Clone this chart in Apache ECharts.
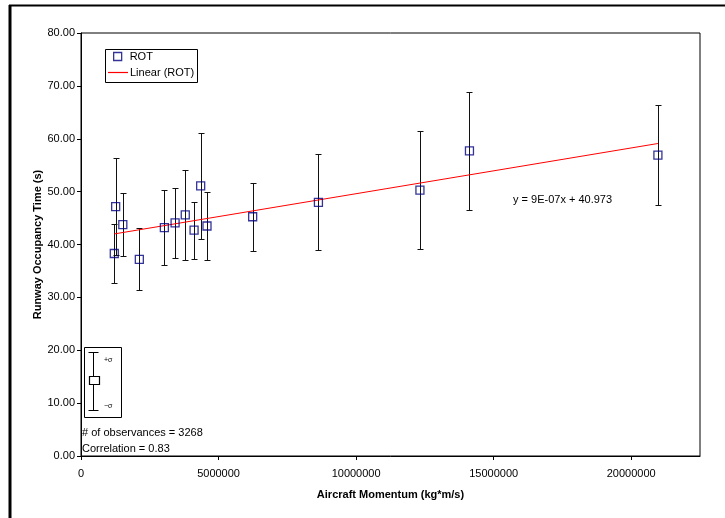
<!DOCTYPE html>
<html>
<head>
<meta charset="utf-8">
<script src="https://cdn.jsdelivr.net/npm/echarts@6/dist/echarts.min.js"></script>
<style>
html,body{margin:0;padding:0;background:#fff;}
#chart{width:725px;height:518px;}
</style>
</head>
<body>
<div id="chart"></div>
<script>
// Aircraft momentum (kg*m/s)
var momentum = [1260000, 1210000, 1520000, 2120000, 3030000, 3420000, 3790000, 4110000, 4350000, 4580000, 6240000, 8630000, 12320000, 14120000, 20970000];
// Mean runway occupancy time (s)
var rot = [47.15, 38.3, 43.75, 37.2, 43.2, 44.1, 45.6, 42.7, 51.1, 43.5, 45.25, 47.98, 50.3, 57.7, 56.9];
// Standard deviation (s)
var sigma = [9.15, 5.5, 6.0, 5.85, 7.1, 6.6, 8.5, 5.4, 10.0, 6.5, 6.4, 9.1, 11.1, 11.2, 9.5];
// Linear trend line end points
var trendX = [1210000, 20970000];
var trendY = [42.0, 59.1];
var yTicks = [0, 10, 20, 30, 40, 50, 60, 70, 80];
var xTicks = [0, 5000000, 10000000, 15000000, 20000000];

var font = 'Liberation Sans, Arial, sans-serif';
var chart = echarts.init(document.getElementById('chart'));

var pts = momentum.map(function (m, i) { return [m, rot[i]]; });
var errData = momentum.map(function (m, i) { return [m, rot[i] - sigma[i], rot[i] + sigma[i]]; });
var trendData = trendX.map(function (x, i) { return [x, trendY[i]]; });

chart.setOption({
  backgroundColor: '#fff',
  animation: false,
  grid: { left: 81, top: 33, right: 25, bottom: 62, show: true, borderColor: '#000', borderWidth: 1, backgroundColor: 'transparent' },
  xAxis: {
    type: 'value', min: 0, max: 22500000, interval: 5000000,
    name: 'Aircraft Momentum (kg*m/s)', nameLocation: 'middle', nameGap: 33, nameMoveOverlap: false,
    nameTextStyle: { fontFamily: font, fontSize: 11, fontWeight: 'bold', color: '#000' },
    axisLine: { lineStyle: { color: '#000', width: 1 } },
    axisTick: { show: true, inside: false, length: 4, customValues: xTicks, lineStyle: { color: '#000' } },
    axisLabel: { margin: 12, fontFamily: font, fontSize: 11, color: '#000', customValues: xTicks,
      formatter: function (v) { return xTicks.indexOf(v) >= 0 ? String(v) : ''; } },
    splitLine: { show: false }
  },
  yAxis: {
    type: 'value', min: 0, max: 80, interval: 10,
    name: 'Runway Occupancy Time (s)', nameLocation: 'middle', nameGap: 38, nameMoveOverlap: false,
    nameTextStyle: { fontFamily: font, fontSize: 11, fontWeight: 'bold', color: '#000' },
    axisLine: { show: true, lineStyle: { color: '#000', width: 1 } },
    axisTick: { show: true, length: 4, lineStyle: { color: '#000' } },
    axisLabel: { margin: 6, fontFamily: font, fontSize: 11, color: '#000',
      formatter: function (v) { return yTicks.indexOf(v) >= 0 ? v.toFixed(2) : ''; } },
    splitLine: { show: false }
  },
  legend: [{
    data: [{ name: 'ROT', icon: 'rect', itemStyle: { color: 'rgba(0,0,0,0)', borderColor: '#000080', borderWidth: 1.3 } }],
    left: 113, top: 51, itemWidth: 8, itemHeight: 8, padding: 0,
    selectedMode: false,
    textStyle: { fontFamily: font, fontSize: 11, color: '#000', padding: [0, 0, 0, 3] }
  }, {
    data: [{ name: 'Linear (ROT)', icon: 'rect', itemStyle: { color: '#ff0000', borderWidth: 0 } }],
    left: 108, top: 67, itemWidth: 20, itemHeight: 1.2, padding: 0,
    selectedMode: false,
    textStyle: { fontFamily: font, fontSize: 11, color: '#000', padding: [0, 0, 0, -3] }
  }],
  graphic: [
    { type: 'rect', shape: { x: 105.5, y: 49.5, width: 92, height: 33 }, style: { fill: 'rgba(0,0,0,0)', stroke: '#000', lineWidth: 1 }, z: 1 },
    { type: 'line', shape: { x1: 9, y1: 5.5, x2: 725, y2: 5.5 }, style: { stroke: '#000', lineWidth: 2 } },
    { type: 'line', shape: { x1: 10, y1: 5, x2: 10, y2: 518 }, style: { stroke: '#000', lineWidth: 3 } },
    { type: 'text', left: 513, top: 194, style: { text: 'y = 9E-07x + 40.973', font: '11px ' + font, fill: '#000' } },
    { type: 'text', left: 82, top: 427, style: { text: '# of observances = 3268', font: '11px ' + font, fill: '#000' } },
    { type: 'text', left: 82, top: 443, style: { text: 'Correlation = 0.83', font: '11px ' + font, fill: '#000' } },
    { type: 'rect', shape: { x: 84.5, y: 347.5, width: 37, height: 70 }, style: { fill: '#fff', stroke: '#000', lineWidth: 1 }, z: 5 },
    { type: 'line', shape: { x1: 93.5, y1: 352.5, x2: 93.5, y2: 410.5 }, style: { stroke: '#000', lineWidth: 1 }, z: 6 },
    { type: 'line', shape: { x1: 88.5, y1: 352.5, x2: 98.5, y2: 352.5 }, style: { stroke: '#000', lineWidth: 1 }, z: 6 },
    { type: 'line', shape: { x1: 88.5, y1: 410.5, x2: 98.5, y2: 410.5 }, style: { stroke: '#000', lineWidth: 1 }, z: 6 },
    { type: 'rect', shape: { x: 89.5, y: 376.5, width: 10, height: 8 }, style: { fill: '#fff', stroke: '#000', lineWidth: 1.2 }, z: 7 },
    { type: 'text', left: 104, top: 357, style: { text: '+σ', font: '7px ' + font, fill: '#000' }, z: 6 },
    { type: 'text', left: 104, top: 403, style: { text: '−σ', font: '7px ' + font, fill: '#000' }, z: 6 }
  ],
  series: [
    {
      name: 'Error', type: 'custom', z: 2,
      data: errData,
      renderItem: function (params, api) {
        var x = api.value(0);
        var lo = api.coord([x, api.value(1)]);
        var hi = api.coord([x, api.value(2)]);
        var cx = Math.round(lo[0]) + 0.5;
        var ly = Math.round(lo[1]) + 0.5, hy = Math.round(hi[1]) + 0.5;
        var st = { stroke: '#111', lineWidth: 1 };
        return { type: 'group', children: [
          { type: 'line', shape: { x1: cx, y1: hy, x2: cx, y2: ly }, style: st },
          { type: 'line', shape: { x1: cx - 3, y1: hy, x2: cx + 3, y2: hy }, style: st },
          { type: 'line', shape: { x1: cx - 3, y1: ly, x2: cx + 3, y2: ly }, style: st }
        ] };
      }
    },
    {
      name: 'Linear (ROT)', type: 'line', data: trendData, z: 3,
      symbol: 'none', showSymbol: false,
      lineStyle: { color: '#ff0000', width: 1 },
      itemStyle: { color: '#ff0000' }
    },
    {
      name: 'ROT', type: 'scatter', data: pts, z: 4,
      symbol: 'rect', symbolSize: 8,
      itemStyle: { color: 'rgba(0,0,0,0)', borderColor: '#000080', borderWidth: 1.3 }
    }
  ]
});
</script>
</body>
</html>
